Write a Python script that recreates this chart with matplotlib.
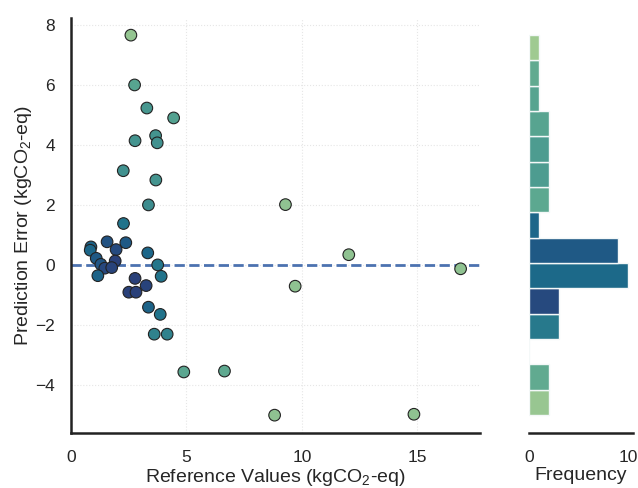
import matplotlib
matplotlib.use("Agg")
import matplotlib.pyplot as plt
import numpy as np
import seaborn as sns

# reference values and prediction errors
ref_vals = [2.60, 2.76, 3.29, 4.45, 2.78, 3.67, 3.74, 2.27, 3.68, 3.36,
            2.28, 1.57, 2.38, 0.87, 0.84, 1.96, 3.33, 1.10, 1.92, 1.30,
            1.47, 1.77, 3.76, 1.17, 3.91, 2.78, 3.26, 2.51, 2.82, 3.36,
            3.87, 3.61, 4.17,
            9.29, 12.03, 16.87, 9.71, 14.85,
            4.89, 6.65, 8.82]
errors = [7.66, 6.00, 5.23, 4.90, 4.14, 4.31, 4.07, 3.14, 2.83, 2.00,
          1.38, 0.77, 0.74, 0.60, 0.49, 0.51, 0.40, 0.22, 0.13, 0.02,
          -0.11, -0.09, 0.00, -0.36, -0.38, -0.45, -0.69, -0.91, -0.91, -1.41,
          -1.65, -2.31, -2.31,
          2.01, 0.34, -0.13, -0.71, -4.98,
          -3.57, -3.54, -5.01]
# colour value of each point on the crest scale (0 light green, 1 dark blue)
shade = [0.06, 0.30, 0.38, 0.32, 0.40, 0.40, 0.42, 0.42, 0.40, 0.45,
         0.62, 0.82, 0.78, 0.72, 0.70, 0.86, 0.70, 0.78, 0.92, 0.80,
         0.88, 0.90, 0.60, 0.72, 0.62, 0.92, 0.90, 0.92, 0.92, 0.72,
         0.62, 0.52, 0.52,
         0.08, 0.08, 0.08, 0.08, 0.08,
         0.28, 0.26, 0.08]
# colour of each histogram bar, lowest bin first
bar_shade = [0.05, 0.25, 0.0, 0.58, 0.87, 0.68, 0.78, 0.70,
             0.27, 0.35, 0.35, 0.30, 0.30, 0.25, 0.02]

sns.set_style("white")
plt.rcParams['font.family'] = ['Liberation Sans', 'DejaVu Sans']
plt.rcParams['mathtext.fontset'] = 'custom'
plt.rcParams['mathtext.rm'] = 'Liberation Sans'
plt.rcParams['mathtext.it'] = 'Liberation Sans:italic'

cmap = sns.color_palette("crest", as_cmap=True)
x = np.array(ref_vals)
e = np.array(errors)

fig = plt.figure(figsize=(6.38, 4.88), dpi=100)
ax = fig.add_axes([0.111, 0.113, 0.641, 0.85])
axh = fig.add_axes([0.829, 0.113, 0.163, 0.85], sharey=ax)

ax.grid(True, linestyle=':', color='#e6e6e6', linewidth=0.8)
ax.scatter(x, e, c=shade, cmap=cmap, vmin=0, vmax=1, s=70,
           edgecolor='#222222', linewidth=0.8, zorder=3)
ax.axhline(0, color='#4c72b0', linestyle='--', linewidth=2, zorder=2)
ax.set_xlim(0, 17.7)
ax.set_ylim(-5.6, 8.23)
ax.set_xticks([0, 5, 10, 15])
ax.set_yticks([-4, -2, 0, 2, 4, 6, 8])
ax.set_xlabel("Reference Values (kgCO$_2$-eq)", fontsize=14, labelpad=1)
ax.set_ylabel("Prediction Error (kgCO$_2$-eq)", fontsize=14, labelpad=1)
ax.tick_params(axis='x', labelsize=12.5, pad=9)
ax.tick_params(axis='y', labelsize=12.5, pad=8)
for s in ['top', 'right']:
    ax.spines[s].set_visible(False)
for s in ['left', 'bottom']:
    ax.spines[s].set_linewidth(1.8)
    ax.spines[s].set_color('#222222')

counts, edges, patches = axh.hist(e, bins=15, orientation='horizontal',
                                  edgecolor='#f4f8f8', linewidth=1.0)
for p, v in zip(patches, bar_shade):
    p.set_facecolor(cmap(v))
axh.set_xlim(0, 10.5)
axh.set_xticks([0, 10])
axh.set_xlabel("Frequency", fontsize=14, labelpad=1)
axh.tick_params(axis='x', labelsize=12.5, pad=9)
axh.tick_params(axis='y', left=False, labelleft=False)
for s in ['top', 'right', 'left']:
    axh.spines[s].set_visible(False)
axh.spines['bottom'].set_linewidth(1.8)
axh.spines['bottom'].set_color('#222222')

fig.savefig("out.png", dpi=100)
